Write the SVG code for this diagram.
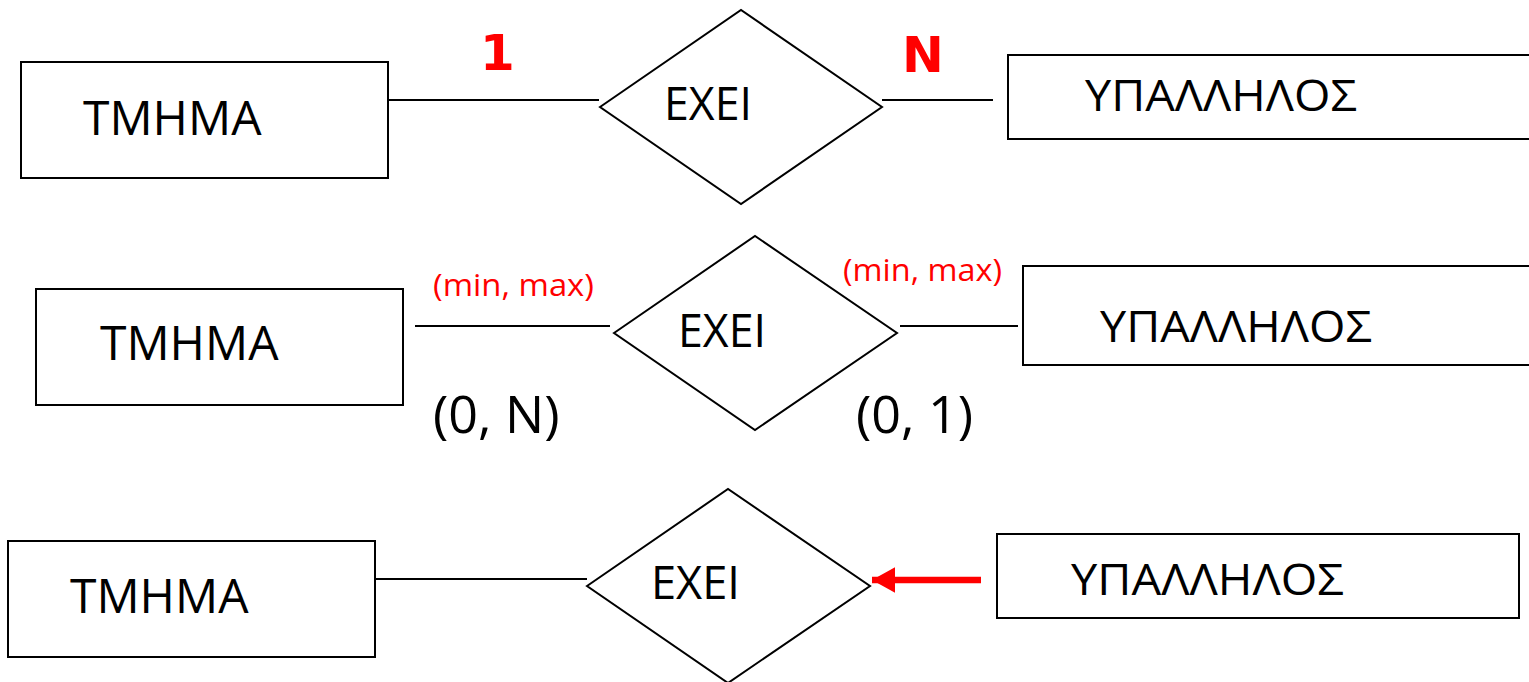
<svg xmlns="http://www.w3.org/2000/svg" width="1529" height="682" viewBox="0 0 1529 682">
<style>
.box{fill:#fff;stroke:#000;stroke-width:2}
.rel{fill:#fff;stroke:#000;stroke-width:2}
.ln{stroke:#000;stroke-width:2;fill:none}
.t{font-family:"Open Sans","Noto Sans","DejaVu Sans",sans-serif;fill:#000}
.ent{font-size:48px}
.ent2{font-size:44px}
.relt{font-size:45px}
.mm{font-family:"Open Sans","Noto Sans",sans-serif;font-size:31px;fill:#ff0000}
.card{font-family:"Open Sans","Noto Sans",sans-serif;font-size:52px;fill:#000}
.big{font-family:"DejaVu Sans",sans-serif;font-weight:bold;font-size:50px;fill:#ff0000}
</style>
<defs>
<marker id="ah" markerWidth="4" markerHeight="4" refX="3.6" refY="2" orient="auto" markerUnits="strokeWidth">
<path d="M0,0 L3.6,2 L0,4 Z" fill="#ff0000"/>
</marker>
</defs>
<rect width="1529" height="682" fill="#fff"/>
<g id="connectors">
<line class="ln" x1="388" y1="100" x2="599" y2="100"/>
<line class="ln" x1="882" y1="100" x2="993" y2="100"/>
<line class="ln" x1="415" y1="326" x2="610" y2="326"/>
<line class="ln" x1="900" y1="326" x2="1018" y2="326"/>
<line class="ln" x1="375" y1="579" x2="587" y2="579"/>
<line x1="981" y1="580" x2="872" y2="580" stroke="#ff0000" stroke-width="6.5" marker-end="url(#ah)"/>
</g>
<g id="tmhma1">
<rect class="box" x="21" y="62" width="367" height="116"/>
<text class="t ent" x="83" y="135">ΤΜΗΜΑ</text>
</g>
<g id="exei1">
<polygon class="rel" points="600,107 741,10 882,107 741,204"/>
<text class="t relt" x="664" y="120" textLength="88" lengthAdjust="spacingAndGlyphs">ΕΧΕΙ</text>
</g>
<g id="ypallilos1">
<rect class="box" x="1008" y="55" width="540" height="84"/>
<text class="t ent2" x="1085" y="111" textLength="272" lengthAdjust="spacingAndGlyphs">ΥΠΑΛΛΗΛΟΣ</text>
</g>
<g id="labels1">
<text class="big" x="480" y="70">1</text>
<text class="big" x="902" y="72">N</text>
</g>
<g id="tmhma2">
<rect class="box" x="36" y="289" width="367" height="116"/>
<text class="t ent" x="100" y="360">ΤΜΗΜΑ</text>
</g>
<g id="exei2">
<polygon class="rel" points="614,333 755,236 897,333 755,430"/>
<text class="t relt" x="678" y="347" textLength="88" lengthAdjust="spacingAndGlyphs">ΕΧΕΙ</text>
</g>
<g id="ypallilos2">
<rect class="box" x="1023" y="266" width="540" height="99"/>
<text class="t ent2" x="1100" y="342" textLength="272" lengthAdjust="spacingAndGlyphs">ΥΠΑΛΛΗΛΟΣ</text>
</g>
<g id="labels2">
<text class="mm" x="433" y="296" textLength="161" lengthAdjust="spacingAndGlyphs">(min, max)</text>
<text class="mm" x="843" y="281" textLength="159" lengthAdjust="spacingAndGlyphs">(min, max)</text>
<text class="card" x="433" y="433">(0, N)</text>
<text class="card" x="856" y="433">(0, 1)</text>
</g>
<g id="tmhma3">
<rect class="box" x="8" y="541" width="367" height="116"/>
<text class="t ent" x="70" y="613">ΤΜΗΜΑ</text>
</g>
<g id="exei3">
<polygon class="rel" points="587,586 728,489 870,586 728,683"/>
<text class="t relt" x="651" y="599" textLength="89" lengthAdjust="spacingAndGlyphs">ΕΧΕΙ</text>
</g>
<g id="ypallilos3">
<rect class="box" x="997" y="534" width="522" height="84"/>
<text class="t ent2" x="1071" y="595" textLength="273" lengthAdjust="spacingAndGlyphs">ΥΠΑΛΛΗΛΟΣ</text>
</g>
</svg>
